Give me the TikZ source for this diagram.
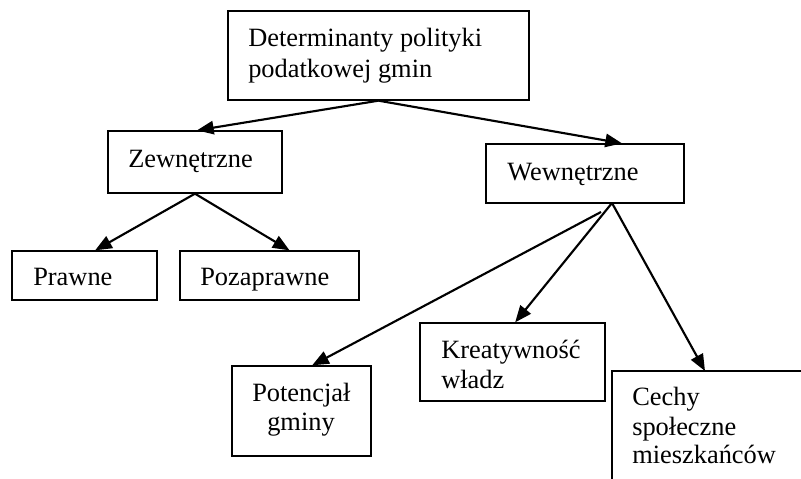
\documentclass[tikz,border=0pt]{standalone}
\usepackage{fontspec}
\setmainfont{Liberation Serif}
\usetikzlibrary{fit,arrows.meta}
\begin{document}
\begin{tikzpicture}[x=0.75pt,y=-0.75pt,
  box/.style={draw,line width=1pt,inner sep=0pt},
  lbl/.style={anchor=base west,inner sep=0pt,font=\fontsize{19.8}{23}\selectfont},
  arr/.style={line width=1.6pt,-{Triangle[length=12.5pt,width=10pt]}},
  ln/.style={line width=1.6pt}]
\useasboundingbox (0,0) rectangle (801,479);
\clip (0,0) rectangle (801,479);
% boxes
\node[box,fit={(228,11) (529,100)}] (top) {};
\node[box,fit={(108,131) (282,193)}] (zew) {};
\node[box,fit={(486,144) (684,203)}] (wew) {};
\node[box,fit={(12,251) (157,300)}] (praw) {};
\node[box,fit={(180,251) (359,300)}] (poza) {};
\node[box,fit={(232,366) (371,456)}] (pot) {};
\node[box,fit={(420,323) (605,401)}] (kre) {};
\node[box,fit={(612,371) (830,510)}] (cech) {};
% texts
\node[lbl] (t1) at (248,46) {Determinanty polityki};
\node[lbl] (t2) at (248,77) {podatkowej gmin};
\node[lbl] (t3) at (128,167) {Zewnętrzne};
\node[lbl] (t4) at (507,180) {Wewnętrzne};
\node[lbl] (t5) at (33,285) {Prawne};
\node[lbl] (t6) at (200,285) {Pozaprawne};
\node[lbl] (t7) at (252,401) {Potencjał};
\node[lbl] (t8) at (267,430) {gminy};
\node[lbl] (t9) at (441,358) {Kreatywność};
\node[lbl] (t10) at (441,388) {władz};
\node[lbl] (t11) at (632,405) {Cechy};
\node[lbl] (t12) at (632,435) {społeczne};
\node[lbl] (t13) at (632,463) {mieszkańców};
% connectors
\coordinate (wo) at (612,203);
\coordinate (ws) at (601,212);
\draw[arr] (top.south) -- ([xshift=1.5pt]zew.north);
\draw[arr] (top.south) -- ([xshift=27.75pt]wew.north);
\draw[arr] (zew.south) -- ([xshift=8pt]praw.north);
\draw[arr] (zew.south) -- ([xshift=15pt]poza.north);
\draw[arr] (ws) -- ([xshift=8pt]pot.north);
\draw[arr] (wo) -- ([xshift=2pt]kre.north);
\draw[arr] (wo) -- (705,371);
\end{tikzpicture}
\end{document}
